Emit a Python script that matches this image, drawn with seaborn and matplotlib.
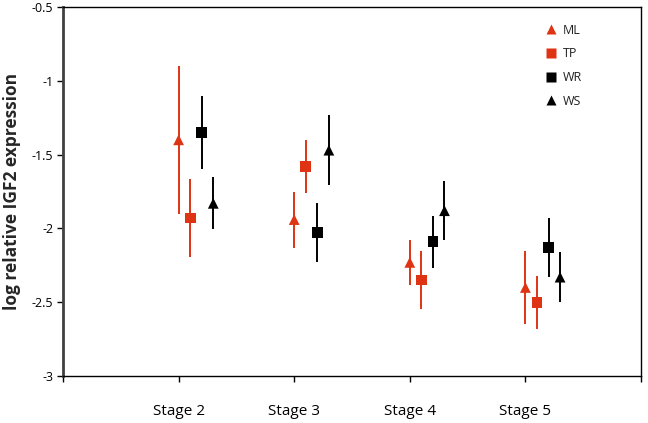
import pandas as pd
import matplotlib.pyplot as plt
import seaborn as sns
import numpy as np

# data
stages = ['Stage 2', 'Stage 3', 'Stage 4', 'Stage 5']
groups = ['ML', 'TP', 'WR', 'WS']

ml_mean = [-1.40, -1.94, -2.23, -2.40]
ml_err = [0.50, 0.19, 0.15, 0.25]
tp_mean = [-1.93, -1.58, -2.35, -2.50]
tp_err = [0.265, 0.18, 0.195, 0.18]
wr_mean = [-1.35, -2.03, -2.09, -2.13]
wr_err = [0.25, 0.20, 0.175, 0.20]
ws_mean = [-1.83, -1.47, -1.88, -2.33]
ws_err = [0.175, 0.235, 0.20, 0.17]

means = {'ML': ml_mean, 'TP': tp_mean, 'WR': wr_mean, 'WS': ws_mean}
errs = {'ML': ml_err, 'TP': tp_err, 'WR': wr_err, 'WS': ws_err}

red = '#DE3413'
colors = {'ML': red, 'TP': red, 'WR': 'black', 'WS': 'black'}
markers = {'ML': '^', 'TP': 's', 'WR': 's', 'WS': '^'}
offsets = {'ML': 0.0, 'TP': 0.1, 'WR': 0.2, 'WS': 0.3}

rows = []
for g in groups:
    for i, st in enumerate(stages):
        rows.append({'Group': g, 'Stage': st, 'pos': i + 1 + offsets[g],
                     'value': means[g][i], 'err': errs[g][i]})
df = pd.DataFrame(rows)

sns.set_style('white')
plt.rcParams['font.family'] = ['Open Sans', 'DejaVu Sans']

fig = plt.figure(figsize=(6.48, 4.23), dpi=100)
ax = fig.add_axes([0.0972, 0.111, 0.892, 0.8725])

for g in groups:
    d = df[df['Group'] == g]
    ax.errorbar(d['pos'], d['value'], yerr=d['err'], fmt='none',
                ecolor=colors[g], elinewidth=1.4, capsize=0, zorder=2)

sns.scatterplot(data=df, x='pos', y='value', hue='Group', style='Group',
                palette=colors, markers=markers, s=60, edgecolor='none',
                ax=ax, zorder=3)

ax.set_xlim(0, 5)
ax.set_ylim(-3, -0.5)
ax.set_xticks([0, 1, 2, 3, 4, 5])
ax.set_xticklabels([''] + stages + [''], fontsize=11)
ax.set_yticks([-3, -2.5, -2, -1.5, -1, -0.5])
ax.set_yticklabels(['-3', '-2.5', '-2', '-1.5', '-1', '-0.5'], fontsize=9)
ax.tick_params(axis='x', direction='out', length=4, width=1, pad=16, colors='black')
ax.tick_params(axis='y', direction='out', length=4, width=1, pad=3, colors='black')
ax.tick_params(axis='both', bottom=True, left=True)
ax.set_xlabel('')
ax.set_ylabel('log relative IGF2 expression', fontsize=12.5, fontweight='bold', labelpad=8)

for side in ['top', 'right', 'bottom']:
    ax.spines[side].set_color('black')
    ax.spines[side].set_linewidth(1)
ax.spines['left'].set_color('#404040')
ax.spines['left'].set_linewidth(2)

leg = ax.legend(loc='upper right', bbox_to_anchor=(0.918, 0.985), frameon=False,
                fontsize=9, handletextpad=0.0, labelspacing=0.85, markerscale=1.0)
for t in leg.get_texts():
    t.set_color('#222222')

plt.savefig('out.png', dpi=100)
